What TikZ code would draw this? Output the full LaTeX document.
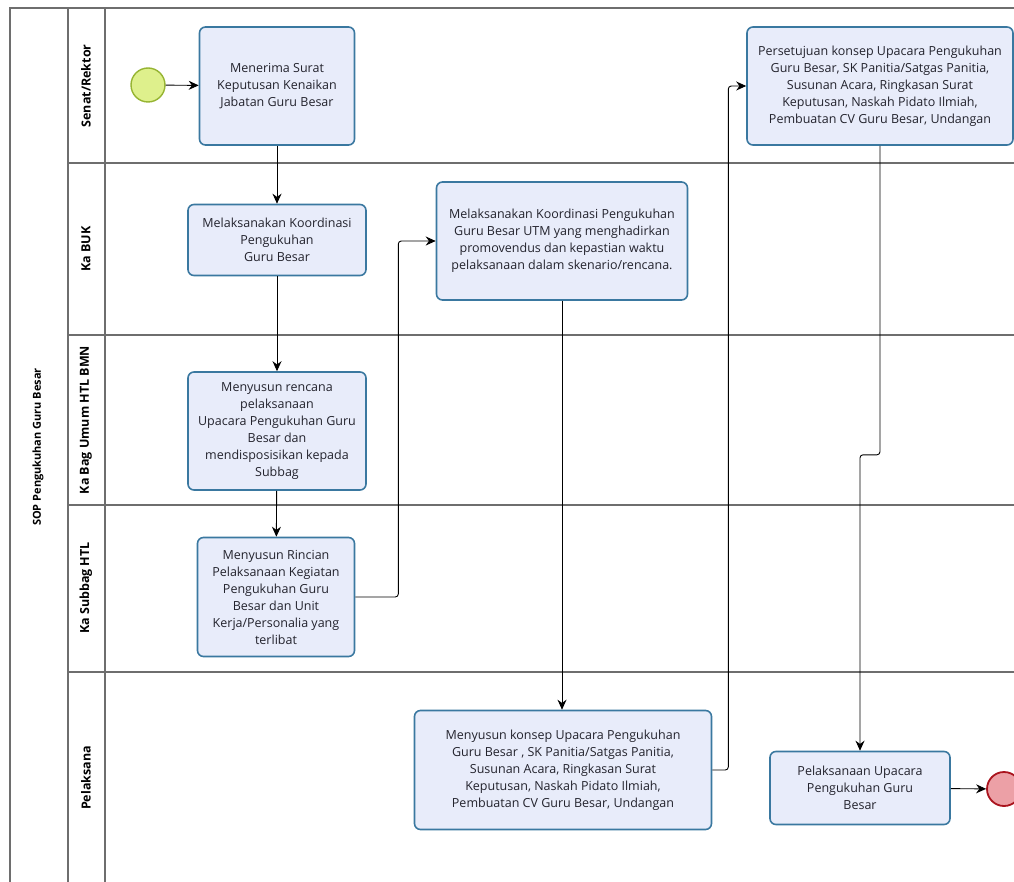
\documentclass[tikz,border=0pt]{standalone}
\usepackage{fontspec}
\setmainfont{Open Sans}
\usetikzlibrary{arrows.meta}

\definecolor{taskfill}{RGB}{232,236,250}
\definecolor{taskline}{RGB}{58,120,160}
\definecolor{startfill}{RGB}{222,240,140}
\definecolor{startline}{RGB}{150,180,50}
\definecolor{endfill}{RGB}{236,160,166}
\definecolor{endline}{RGB}{170,20,30}
\definecolor{laneline}{RGB}{110,110,110}
\definecolor{textc}{RGB}{35,35,45}

\begin{document}
\begin{tikzpicture}[x=1pt, y=-1pt, >={Stealth[length=10pt,width=9pt]},
    font=\fontsize{12.5}{17}\selectfont,
    task/.style={draw=taskline, fill=taskfill, line width=1.6pt,
      rounded corners=6pt, align=center, text=textc, inner sep=0pt},
    startev/.style={circle, draw=startline, fill=startfill, line width=1.4pt,
      minimum size=34pt, inner sep=0pt},
    endev/.style={circle, draw=endline, fill=endfill, line width=1.8pt,
      minimum size=34pt, inner sep=0pt},
    lane/.style={draw=laneline, line width=1.2pt},
    flow/.style={->, line width=0.9pt, rounded corners=3pt},
    lanelabel/.style={rotate=90, font=\bfseries\fontsize{12.5}{14}\selectfont}]
  \useasboundingbox (0,0) rectangle (1014,882);
  \clip (0,0) rectangle (1014,882);
  % Pool and lanes
  \draw[lane] (10,882) -- (10,8) -- (1014,8);
  \draw[lane] (68,8) -- (68,882);
  \draw[lane] (105,8) -- (105,882);
  \foreach \y in {163,335,505,672} \draw[lane] (68,\y) -- (1014,\y);
  \node[lanelabel, font=\bfseries\fontsize{11}{13}\selectfont] (pool) at (38,447) {SOP Pengukuhan Guru Besar};
  \node[lanelabel] (senat) at (86,86) {Senat/Rektor};
  \node[lanelabel] (buk) at (86,249) {Ka BUK};
  \node[lanelabel] (bagumum) at (86,420) {Ka Bag Umum HTL BMN};
  \node[lanelabel] (subbag) at (86,588) {Ka Subbag HTL};
  \node[lanelabel] (pelaksana) at (86,778) {Pelaksana};
  % Events
  \node[startev] (mulai) at (148,85) {};
  \node[endev] (selesai) at (1004,789) {};
  % Tasks
  \node[task, minimum width=155pt, minimum height=118pt] (terima) at (277,86)
    {Menerima Surat\\Keputusan Kenaikan\\Jabatan Guru Besar};
  \node[task, minimum width=178pt, minimum height=71pt] (koord) at (277,240)
    {Melaksanakan Koordinasi\\Pengukuhan\\Guru Besar};
  \node[task, minimum width=178pt, minimum height=118pt] (rencana) at (277,431)
    {Menyusun rencana\\pelaksanaan\\Upacara Pengukuhan Guru\\Besar dan\\mendisposisikan kepada\\Subbag};
  \node[task, minimum width=157pt, minimum height=119pt] (rincian) at (276,597)
    {Menyusun Rincian\\Pelaksanaan Kegiatan\\Pengukuhan Guru\\Besar dan Unit\\Kerja/Personalia yang\\terlibat};
  \node[task, minimum width=251pt, minimum height=118pt] (koordutm) at (562,241)
    {Melaksanakan Koordinasi Pengukuhan\\Guru Besar UTM yang menghadirkan\\promovendus dan kepastian waktu\\pelaksanaan dalam skenario/rencana.};
  \node[task, minimum width=266pt, minimum height=118pt] (setuju) at (880,86)
    {Persetujuan konsep Upacara Pengukuhan\\Guru Besar, SK Panitia/Satgas Panitia,\\Susunan Acara, Ringkasan Surat\\Keputusan, Naskah Pidato Ilmiah,\\Pembuatan CV Guru Besar, Undangan};
  \node[task, minimum width=297pt, minimum height=119pt] (konsep) at (563,770)
    {Menyusun konsep Upacara Pengukuhan\\Guru Besar , SK Panitia/Satgas Panitia,\\Susunan Acara, Ringkasan Surat\\Keputusan, Naskah Pidato Ilmiah,\\Pembuatan CV Guru Besar, Undangan};
  \node[task, minimum width=180pt, minimum height=73pt] (laksana) at (860,788)
    {Pelaksanaan Upacara\\Pengukuhan Guru\\Besar};
  % Flows
  \draw[flow] (mulai) -- (terima);
  \draw[flow] (terima) -- (koord);
  \draw[flow] (koord) -- (rencana);
  \draw[flow] (rencana) -- (rincian);
  \draw[flow] (rincian.east) -- ++(43,0) |- (koordutm.west);
  \draw[flow] (koordutm.south) -- (koordutm.south |- konsep.north);
  \draw[flow] (konsep.east) -- ++(16,0) |- (setuju.west);
  \draw[flow] (setuju.south) -- ++(0,309) -| (laksana.north);
  \draw[flow] (laksana) -- (selesai);
\end{tikzpicture}
\end{document}
